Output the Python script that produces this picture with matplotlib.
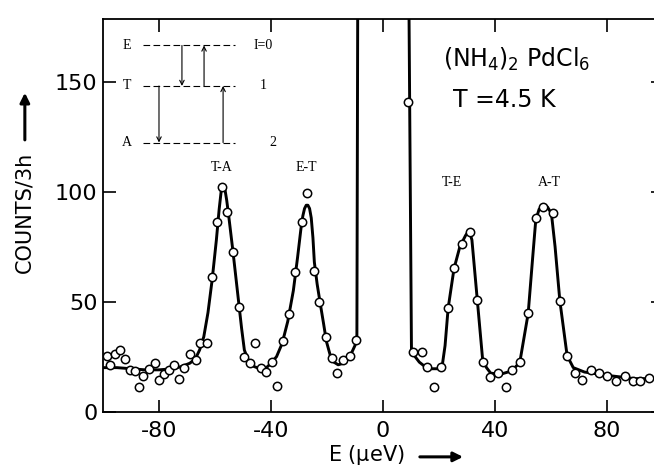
#!/usr/bin/env python

############# Required Packages ############
import matplotlib
matplotlib.use('Agg')
import matplotlib.pyplot as plt

############# DATA ############
# measured points (E in ueV, counts per 3h)
E_points = [-98.7, -97.5, -95.7, -94.0, -92.0, -90.4, -88.6, -87.0, -85.8, -83.5, -81.4, -80.0,
            -78.2, -76.4, -74.6, -72.8, -71.0, -69.0, -66.8, -65.4, -62.8, -61.2, -59.4, -57.5,
            -55.7, -53.5, -51.4, -49.6, -47.5, -45.7, -43.6, -41.8, -39.8, -38.0, -35.6, -33.4,
            -31.3, -28.9, -27.0, -24.6, -22.7, -20.4, -18.3, -16.3, -14.4, -11.8, -9.6, 8.8,
            10.9, 13.8, 15.9, 18.2, 20.6, 23.2, 25.5, 28.2, 31.0, 33.7, 35.6, 38.2,
            41.2, 43.9, 46.0, 48.9, 51.9, 54.6, 57.3, 60.6, 63.2, 65.8, 68.6, 71.3,
            74.5, 77.3, 80.1, 83.2, 86.4, 89.2, 92.0, 95.1]
counts = [25.5, 21, 26, 28, 24, 19, 18.6, 11.4, 16.4, 19.5, 22.3, 14.5,
          17.3, 19, 21, 15, 20, 26, 23.6, 31, 31.4, 61.4, 86, 102,
          90.6, 72.4, 47.7, 24.7, 22, 31, 20, 18, 22.4, 11.8, 32, 44.4,
          63.3, 86, 99.2, 64, 50, 33.8, 24.2, 17.6, 23.6, 25.5, 32.7, 140.6,
          27, 27, 20.5, 11, 20.5, 47, 65.3, 76, 81.5, 50.8, 22.7, 15.6,
          17.6, 11.4, 19, 22.4, 44.7, 88, 92.9, 90.2, 50.5, 25.2, 17.6, 14.4,
          19, 17.6, 16, 13.8, 16.4, 14, 14, 15.3]

# fitted curve, vertices
E_fit = [-100, -95, -90, -85, -80, -75, -72, -69, -67, -65.5, -64, -62.5, -61, -59.5, -58.5,
         -57.8, -57.2, -56.5, -55.8, -55, -53.5, -52, -50.5, -49.5, -48, -46, -44, -42, -40,
         -38, -36, -34, -32, -30.5, -29.3, -28.6, -28.0, -27.4, -26.8, -26.2, -25.6, -25.0,
         -24.5, -23.5, -22.5, -21.2, -20.2, -18.8, -17.5, -16, -14, -12, -10, -9.3, -9.0,
         9.3, 10.2, 11.5, 13, 15, 17, 20, 21.2, 22.2, 23.3, 25.4, 27.5, 29.5, 30.8, 31.8,
         33.7, 35.6, 37, 38.5, 42, 46, 48.9, 51.9, 53.5, 54.6, 55.8, 57.3, 58.8, 60.2,
         61.5, 63.2, 65.8, 68, 72, 80, 90, 100]
counts_fit = [20, 20, 19.5, 19, 19, 19.5, 20.5, 22, 24, 28, 34, 45, 60, 78, 92,
              100, 102.5, 101.5, 96, 88, 72, 55, 38, 28, 23, 20.5, 19.5, 19.5, 22,
              25, 31, 41, 55, 70, 83, 89, 92.3, 93.8, 93.8, 92.3, 88, 79,
              68, 58, 50, 40, 32, 25.5, 22.5, 21.3, 22, 24.5, 30, 33, 185,
              185, 28, 25, 22.5, 20.5, 19.5, 19.5, 21, 30, 47, 65, 75, 80, 82.5, 78,
              51, 24, 20, 17.5, 17, 18.5, 22.4, 44.7, 70, 87, 92, 93.8, 93, 90,
              75, 50.5, 25.5, 20, 18, 16.5, 15, 15]

x_ticks = [-80, -40, 0, 40, 80]
y_ticks = [0, 50, 100, 150]

peak_labels = ['T-A', 'E-T', 'T-E', 'A-T']
peak_pos = [(-57.5, 108), (-27.5, 108), (24.5, 101), (59.5, 101)]

# level scheme inset: name, spin label, level height (counts units)
levels = ['E', 'T', 'A']
spins = ['I=0', '1', '2']
level_c = [166.4, 148.0, 122.3]

############# PLOT SETTINGS ############
fig_size        = (6.54, 4.71)
tick_labelsize  = 16
label_fontsize  = 15
serif_size      = 10
spine_width     = 1.3
tick_width      = 1.2
tick_length     = 9
linewidth       = 2.1
markersize      = 6
markeredgewidth = 1.1

plt.rcParams['font.family'] = 'DejaVu Sans'
plt.rcParams['axes.unicode_minus'] = False

############# FIGURE ############
fig = plt.figure(figsize=fig_size, dpi=100)
ax = fig.add_axes([0.1575, 0.126, 0.856, 0.834])

ax.plot(E_fit, counts_fit, color='black', lw=linewidth, zorder=2, solid_joinstyle='round')
ax.plot(E_points, counts, ls='none', marker='o', ms=markersize, mfc='white',
        mec='black', mew=markeredgewidth, zorder=3)

ax.set_xlim(-100, 100)
ax.set_ylim(0, 178.5)
ax.set_xticks(x_ticks)
ax.set_yticks(y_ticks)

for spine in ax.spines.values():
    spine.set_linewidth(spine_width)

ax.tick_params(axis='both', which='major', direction='in', width=tick_width, length=tick_length,
               labelsize=tick_labelsize, top=True, right=True)
ax.tick_params(axis='x', pad=7)
ax.tick_params(axis='y', pad=4)

############# TEXT ############
ax.text(21.4, 160, r'(NH$_4$)$_2$ PdCl$_6$', fontsize=17, ha='left', va='center')
ax.text(25, 141.7, 'T =4.5 K', fontsize=17, ha='left', va='center')

for lab, (xp, yp) in zip(peak_labels, peak_pos):
    ax.text(xp, yp, lab, fontsize=serif_size, family='Liberation Serif', ha='center', va='bottom')

# level scheme
for name, spin, lc in zip(levels, spins, level_c):
    ax.plot([-85.7, -52.9], [lc, lc], color='black', lw=0.8, ls=(0, (6, 3)))
    ax.text(-91.4, lc, name, fontsize=serif_size, family='Liberation Serif', ha='center', va='center')
    ax.text(-42.9 if spin != '2' else -39.3, lc, spin, fontsize=serif_size,
            family='Liberation Serif', ha='center', va='center')

arrow = dict(arrowstyle='->', lw=0.8, color='black', shrinkA=0, shrinkB=0, mutation_scale=8)
ax.annotate('', xy=(-71.8, level_c[1]), xytext=(-71.8, level_c[0]), arrowprops=arrow)
ax.annotate('', xy=(-63.9, level_c[0]), xytext=(-63.9, level_c[1]), arrowprops=arrow)
ax.annotate('', xy=(-80.0, level_c[2]), xytext=(-80.0, level_c[1]), arrowprops=arrow)
ax.annotate('', xy=(-57.1, level_c[1]), xytext=(-57.1, level_c[2]), arrowprops=arrow)

# axis labels with arrows
fig.text(0.038, 0.55, 'COUNTS/3h', rotation=90, fontsize=label_fontsize, ha='center', va='center')
fig_arrow = dict(arrowstyle='-|>', lw=2.2, color='black', mutation_scale=14, shrinkA=0, shrinkB=0)
fig.text(0.502, 0.034, r'E ($\mathregular{\mu}$eV)', fontsize=label_fontsize, ha='left', va='center')
ax.annotate('', xy=(0.038, 0.803), xytext=(0.038, 0.703), xycoords='figure fraction',
            textcoords='figure fraction', arrowprops=fig_arrow)
ax.annotate('', xy=(0.708, 0.030), xytext=(0.642, 0.030), xycoords='figure fraction',
            textcoords='figure fraction', arrowprops=fig_arrow)

fig.savefig('out.png', dpi=100)
